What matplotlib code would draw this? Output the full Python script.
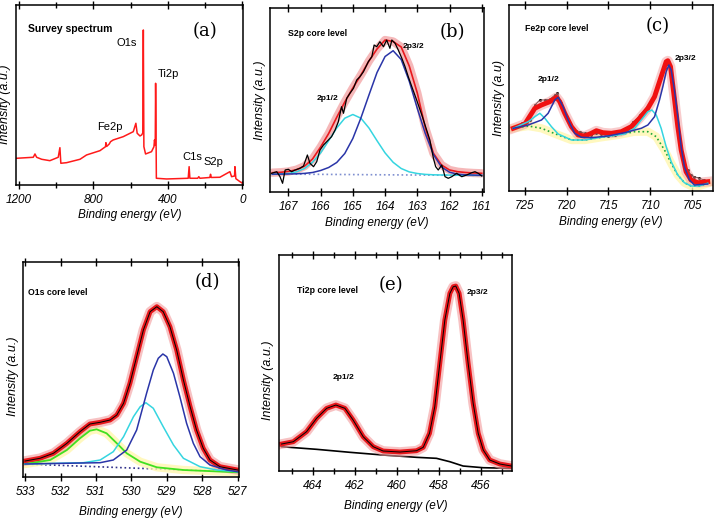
import matplotlib
matplotlib.use("Agg")
import matplotlib.pyplot as plt
from matplotlib import font_manager

names = {f.name for f in font_manager.fontManager.ttflist}
narrow = "Liberation Sans Narrow" if "Liberation Sans Narrow" in names else "Liberation Sans"
plt.rcParams["font.family"] = [narrow, "DejaVu Sans"]
plt.rcParams["font.style"] = "italic"

# ---- (a) survey spectrum ----
survey_ev = [1212, 1123, 1114, 1105, 1078, 1034, 989, 980, 975, 944,
             872, 837, 765, 735, 733, 729, 715, 708, 694, 640,
             586, 572, 565, 550, 541, 535, 532, 529, 520, 488,
             475, 472, 468, 466, 464, 462, 407, 291, 286, 282,
             240, 234, 228, 175, 171, 167, 121, 67, 58, 42,
             40, 35, 13, -1]
survey_int = [26.7, 27.7, 31.0, 27.7, 25.7, 24.3, 27.7, 37.3, 21.7, 22.3,
              25.7, 30.0, 34.3, 38.3, 42.3, 38.5, 41.0, 43.3, 45.0, 48.3,
              53.3, 61.7, 51.7, 49.0, 50.0, 52.0, 155.0, 38.3, 31.0, 33.3,
              38.3, 45.0, 40.0, 101.7, 60.0, 6.7, 6.0, 6.7, 18.3, 6.7,
              6.7, 8.3, 6.7, 7.5, 10.7, 7.5, 7.7, 13.3, 8.3, 9.0,
              18.3, 6.3, 3.3, 1.7]
survey_peaks = ["O1s", "Ti2p", "Fe2p", "C1s", "S2p"]

# ---- (b) S2p ----
s2p_ev = [167.5, 167.25, 167.0, 166.75, 166.5, 166.25, 166.0, 165.75, 165.5,
          165.25, 165.0, 164.75, 164.5, 164.25, 164.0, 163.75, 163.5, 163.25,
          163.0, 162.75, 162.5, 162.25, 162.0, 161.75, 161.5, 161.25, 161.0]
s2p_half = [17.6, 18.0, 18.5, 20.1, 23.5, 29.7, 39.1, 51.3, 64.0,
            73.8, 77.5, 73.8, 64.0, 51.3, 39.1, 29.7, 23.5, 20.1,
            18.5, 17.6, 17.2, 17.0, 16.9, 16.8, 16.7, 16.6, 16.5]
s2p_three_half = [17.8, 17.9, 18.0, 18.2, 18.6, 19.5, 21.5, 24.5, 29.5,
                  38.5, 53.5, 74.0, 97.0, 119.5, 135.5, 141.3, 132.5, 110.8,
                  83.6, 58.3, 37.5, 25.0, 19.8, 17.8, 17.2, 16.9, 16.7]
s2p_fit = [19.3, 19.7, 20.5, 22.3, 25.8, 33.0, 45.0, 58.5, 74.7,
           90.0, 104.0, 117.0, 131.0, 143.0, 152.0, 150.5, 145.0, 126.0,
           99.0, 64.0, 38.7, 27.0, 22.0, 20.3, 19.5, 19.0, 18.7]
s2p_bg_ev = [167.6, 160.95]
s2p_bg = [18.0, 16.5]
s2p_raw_ev = [167.52, 167.36, 167.26, 167.18, 167.10, 167.00, 166.90, 166.79, 166.64,
              166.53, 166.41, 166.33, 166.22, 166.12, 166.02, 165.91, 165.81, 165.66,
              165.55, 165.45, 165.35, 165.29, 165.19, 165.09, 164.98, 164.88, 164.78,
              164.67, 164.52, 164.41, 164.34, 164.26, 164.16, 164.05, 163.95, 163.85,
              163.79, 163.69, 163.59, 163.48, 163.38, 163.28, 163.17, 163.02, 162.86,
              162.71, 162.61, 162.50, 162.43, 162.35, 162.24, 162.14, 162.04, 161.93,
              161.78, 161.62, 161.47, 161.31, 161.21, 161.11, 161.00]
s2p_raw = [18.7, 20.3, 15.3, 8.7, 22.0, 22.7, 20.3, 22.0, 23.7,
           26.0, 37.0, 28.7, 25.3, 30.3, 42.0, 47.0, 50.3, 55.3,
           62.0, 70.3, 85.3, 78.7, 93.7, 98.7, 103.7, 112.0, 115.3,
           120.3, 130.3, 135.3, 147.0, 145.3, 150.3, 145.3, 152.0, 143.7,
           152.0, 148.7, 142.0, 133.7, 125.3, 115.3, 105.3, 92.0, 77.0,
           62.0, 52.0, 33.7, 25.3, 22.0, 27.0, 15.3, 13.7, 15.3,
           18.7, 15.3, 17.0, 19.3, 20.3, 18.7, 16.0]

# ---- (c) Fe2p ----
fe_bg_ev = [726.39, 724.60, 723.01, 721.02, 719.43, 717.84, 715.85, 713.87, 711.88,
            710.29, 709.29, 708.30, 707.50, 706.71, 705.92, 705.12, 704.13, 703.13]
fe_bg = [62.7, 65.0, 62.7, 56.0, 51.0, 51.0, 53.7, 56.0, 59.3,
         59.3, 54.3, 41.0, 27.7, 16.0, 8.3, 5.0, 5.0, 7.7]
fe_sat_ev = [726.39, 724.60, 723.81, 723.21, 722.61, 721.82, 721.02, 719.43, 717.84,
             715.85, 713.07, 711.88, 711.08, 710.29, 709.81, 709.29, 708.70, 708.10,
             707.50, 706.71, 705.92, 705.12, 704.13, 703.13]
fe_sat = [62.7, 69.3, 74.3, 77.7, 72.7, 64.3, 57.0, 51.0, 51.0,
          53.7, 57.0, 62.7, 71.0, 79.3, 81.0, 76.0, 62.7, 44.3,
          29.3, 16.0, 8.3, 5.0, 5.0, 7.7]
fe_main_ev = [726.39, 724.60, 723.01, 722.22, 721.42, 721.02, 720.43, 719.83, 719.04,
              718.24, 717.05, 715.06, 713.07, 711.08, 710.29, 709.49, 708.90, 708.50,
              708.10, 707.78, 707.50, 707.11, 706.71, 706.31, 705.92, 705.32, 704.72, 703.13]
fe_main = [62.7, 66.0, 71.0, 77.7, 91.0, 93.7, 84.3, 71.0, 57.7,
           53.7, 53.3, 55.0, 58.3, 62.7, 66.0, 74.3, 91.0, 104.3,
           119.3, 126.0, 121.0, 101.0, 74.3, 44.3, 24.3, 11.0, 6.0, 7.0]
fe_fit_ev = [726.39, 725.00, 723.81, 723.01, 722.02, 721.22, 720.83, 720.23, 719.43,
             718.64, 717.84, 717.05, 716.45, 715.66, 714.66, 713.47, 712.28, 711.28,
             710.29, 709.49, 708.70, 708.10, 707.90, 707.58, 707.19, 706.71, 706.31,
             705.72, 705.12, 704.32, 703.13]
fe_fit = [62.7, 67.0, 82.7, 86.0, 89.3, 93.7, 89.3, 77.7, 64.3,
          56.0, 55.0, 57.7, 60.3, 58.3, 57.7, 59.3, 64.3, 72.7,
          82.7, 94.3, 114.3, 129.3, 130.3, 124.3, 97.7, 64.3, 41.0,
          19.3, 11.0, 8.3, 9.3]
fe_raw_ev = [726.39, 725.99, 725.40, 724.80, 724.40, 723.81, 723.21, 722.61, 722.02,
             721.42, 721.10, 720.63, 720.03, 719.43, 718.84, 718.44, 717.84, 717.05,
             716.45, 715.85, 715.06, 714.26, 713.47, 712.67, 712.08, 711.68, 711.28,
             710.69, 710.09, 709.49, 708.90, 708.30, 707.90, 707.50, 707.11, 706.71,
             706.31, 705.92, 705.52, 705.12, 704.72, 704.13, 703.53, 703.13]
fe_raw = [63.7, 65.0, 67.7, 69.3, 71.0, 86.0, 91.0, 91.0, 91.7,
          96.0, 97.7, 87.7, 74.3, 66.0, 60.3, 59.3, 57.7, 56.0,
          57.7, 56.7, 55.0, 56.0, 57.7, 60.3, 69.3, 71.0, 76.0,
          81.0, 87.7, 96.0, 107.7, 122.7, 127.7, 119.3, 91.0, 61.0,
          41.0, 27.7, 21.0, 16.0, 14.3, 12.7, 11.0, 9.3]

# ---- (d) O1s ----
o_bg_ev = [533.06, 526.96]
o_bg = [13.0, 5.0]
o_high_ev = [533.0, 532.29, 531.82, 531.45, 531.17, 530.98, 530.70, 530.41, 530.13,
             529.75, 529.28, 528.53, 527.0]
o_high = [13.0, 17.0, 27.0, 38.7, 46.3, 47.7, 43.7, 33.7, 23.7, 15.3, 9.7, 7.0, 4.7]
o_mid_ev = [533.0, 531.35, 530.88, 530.51, 530.22, 529.94, 529.75, 529.59, 529.38,
            529.10, 528.81, 528.53, 528.06, 527.59, 527.0]
o_mid = [13.0, 14.3, 17.0, 25.3, 40.3, 60.3, 70.3, 74.3, 68.7,
         50.3, 32.0, 18.7, 10.3, 7.0, 5.3]
o_low_ev = [533.0, 530.88, 530.51, 530.13, 529.85, 529.57, 529.38, 529.24, 529.11,
            529.00, 528.81, 528.63, 528.44, 528.25, 528.06, 527.78, 527.31, 527.0]
o_low = [13.0, 14.3, 17.0, 27.0, 47.0, 83.7, 107.0, 118.7, 123.0,
         120.3, 103.7, 80.3, 53.7, 33.7, 20.3, 12.0, 7.0, 5.3]
o_fit_ev = [533.0, 532.58, 532.20, 531.82, 531.45, 531.17, 530.88, 530.60, 530.41,
            530.22, 530.04, 529.85, 529.66, 529.47, 529.28, 529.10, 528.91, 528.72,
            528.53, 528.34, 528.16, 527.97, 527.78, 527.50, 527.0]
o_fit = [16.0, 18.7, 23.7, 33.7, 45.3, 53.0, 54.7, 57.0, 62.0,
         73.7, 93.7, 120.3, 147.0, 165.3, 170.3, 165.3, 150.3, 127.0,
         97.0, 70.3, 47.0, 28.7, 17.0, 10.3, 7.0]

# ---- (e) Ti2p ----
ti_bg_ev = [465.48, 463.81, 462.22, 460.64, 459.05, 458.10, 457.46, 456.83, 455.87, 454.53]
ti_bg = [24.3, 21.7, 18.7, 16.0, 13.7, 12.7, 9.3, 5.0, 3.3, 2.7]
ti_fit_ev = [465.48, 464.92, 464.29, 463.81, 463.33, 462.89, 462.46, 462.07, 461.59,
             461.11, 460.64, 459.84, 459.05, 458.73, 458.43, 458.18, 457.94, 457.70,
             457.46, 457.30, 457.18, 457.02, 456.83, 456.59, 456.35, 456.11, 455.87,
             455.56, 455.08, 454.53]
ti_fit = [27.0, 29.3, 39.3, 52.7, 62.7, 66.0, 62.7, 51.0, 34.3,
          24.3, 20.0, 19.0, 20.3, 23.7, 37.7, 64.3, 107.7, 151.0,
          177.7, 184.3, 185.0, 177.7, 151.0, 107.7, 67.7, 37.7, 21.0,
          11.0, 7.0, 5.0]

RED = "#e8181c"
HALO = "#f29a9c"
BLUE = "#2a35a8"
CYAN = "#35d5e0"

fig = plt.figure(figsize=(7.16, 5.24), dpi=100)


def style(ax, xlim, ylim, major, minor, ylab, ylabel_y):
    ax.set_xlim(*xlim)
    ax.set_ylim(*ylim)
    ax.set_xticks(major)
    ax.set_xticks(minor, minor=True)
    ax.set_yticks([])
    ax.tick_params(axis="x", which="both", direction="inout", top=True, width=1, pad=3.5,
                   labelsize=8.5)
    ax.tick_params(axis="x", which="major", length=6)
    ax.tick_params(axis="x", which="minor", length=4)
    for s in ax.spines.values():
        s.set_linewidth(1.1)
    ax.set_xlabel("Binding energy (eV)", fontsize=8.5)
    ax.xaxis.set_label_coords(0.5, -0.135)
    ax.set_ylabel(ylab, fontsize=9)
    ax.yaxis.set_label_coords(-0.02, ylabel_y)


def note(ax, x, y, s, size=6.3, ha="left"):
    ax.text(x, y, s, transform=ax.transAxes, fontsize=size, fontweight="bold",
            fontstyle="normal", family="Liberation Sans", ha=ha, va="center")


def tag(ax, x, y, s):
    ax.text(x, y, s, transform=ax.transAxes, fontsize=13, fontstyle="normal",
            family="DejaVu Serif", ha="center", va="center")


# (a)
ax = fig.add_axes([0.0223, 0.647, 0.317, 0.3435])
ax.plot(survey_ev, survey_int, color="#ff1a1a", lw=1.1)
style(ax, (1216, -3), (0, 180), [1200, 800, 400, 0], [1000, 600, 200], "Intensity (a.u.)", 0.45)
note(ax, 0.053, 0.867, "Survey spectrum", size=7.5)
tag(ax, 0.835, 0.855, "(a)")
for name, (x, y) in zip(survey_peaks, [(0.445, 0.789), (0.626, 0.617), (0.357, 0.322),
                                       (0.731, 0.156), (0.828, 0.128)]):
    ax.text(x, y, name, transform=ax.transAxes, fontsize=8, fontstyle="normal",
            family="Liberation Sans", ha="left", va="center")

# (b)
ax = fig.add_axes([0.3771, 0.6336, 0.2989, 0.3511])
ax.plot(s2p_bg_ev, s2p_bg, color="#7f8fd0", lw=1.2, ls=":")
ax.plot(s2p_ev, s2p_fit, color=HALO, lw=6, alpha=0.7, solid_capstyle="round")
ax.plot(s2p_ev, s2p_fit, color=RED, lw=1.2)
ax.plot(s2p_ev, s2p_half, color=CYAN, lw=1.1)
ax.plot(s2p_ev, s2p_three_half, color=BLUE, lw=1.1)
ax.plot(s2p_raw_ev, s2p_raw, color="black", lw=0.9)
style(ax, (167.57, 160.93), (0, 184), [167, 166, 165, 164, 163, 162, 161], [], "Intensity (a.u.)", 0.5)
note(ax, 0.084, 0.861, "S2p core level")
note(ax, 0.22, 0.508, "2p1/2", size=6)
note(ax, 0.621, 0.791, "2p3/2", size=6)
tag(ax, 0.85, 0.87, "(b)")

# (c)
ax = fig.add_axes([0.7109, 0.6355, 0.2849, 0.355])
ax.plot(fe_bg_ev, fe_bg, color="#fff7b0", lw=6, alpha=0.8)
ax.plot(fe_raw_ev, fe_raw, color="black", lw=0.6, marker="o", ms=1.2)
ax.plot(fe_fit_ev, fe_fit, color=HALO, lw=7, alpha=0.5)
ax.plot(fe_fit_ev, fe_fit, color="#f01010", lw=3.5)
ax.plot(fe_bg_ev, fe_bg, color="#1faa3a", lw=1.2, ls=":")
ax.plot(fe_sat_ev, fe_sat, color=CYAN, lw=1.1)
ax.plot(fe_main_ev, fe_main, color=BLUE, lw=1.1)
style(ax, (726.9, 702.5), (0, 186), [725, 720, 715, 710, 705], [], "Intensity (a.u)", 0.5)
note(ax, 0.078, 0.874, "Fe2p core level")
note(ax, 0.142, 0.597, "2p1/2", size=6)
note(ax, 0.814, 0.712, "2p3/2", size=6)
tag(ax, 0.73, 0.885, "(c)")

# (d)
ax = fig.add_axes([0.0321, 0.0897, 0.3017, 0.4103])
ax.plot(o_bg_ev, o_bg, color="#30308a", lw=1.2, ls=":")
ax.plot(o_high_ev, o_high, color="#fff7b0", lw=6, alpha=0.8)
ax.plot(o_fit_ev, o_fit, color=HALO, lw=7, alpha=0.6)
ax.plot(o_fit_ev, o_fit, color=RED, lw=3.5)
ax.plot(o_fit_ev, o_fit, color="black", lw=0.7)
ax.plot(o_high_ev, o_high, color="#40e020", lw=1.3)
ax.plot(o_mid_ev, o_mid, color=CYAN, lw=1.1)
ax.plot(o_low_ev, o_low, color=BLUE, lw=1.1)
style(ax, (533.06, 526.96), (0, 215), [533, 532, 531, 530, 529, 528, 527], [], "Intensity (a.u.)", 0.47)
note(ax, 0.023, 0.86, "O1s core level")
tag(ax, 0.852, 0.905, "(d)")

# (e)
ax = fig.add_axes([0.3897, 0.1011, 0.3254, 0.4122])
ax.plot(ti_bg_ev, ti_bg, color="black", lw=1.2)
ax.plot(ti_fit_ev, ti_fit, color=HALO, lw=7, alpha=0.6)
ax.plot(ti_fit_ev, ti_fit, color=RED, lw=3.5)
ax.plot(ti_fit_ev, ti_fit, color="black", lw=0.7)
style(ax, (465.6, 454.5), (0, 216), [464, 462, 460, 458, 456], [465, 463, 461, 459, 457, 455],
      "Intensity (a.u.)", 0.42)
note(ax, 0.077, 0.838, "Ti2p core level")
note(ax, 0.232, 0.433, "2p1/2", size=6)
note(ax, 0.807, 0.826, "2p3/2", size=6)
tag(ax, 0.48, 0.863, "(e)")

fig.savefig("out.png", dpi=100)
